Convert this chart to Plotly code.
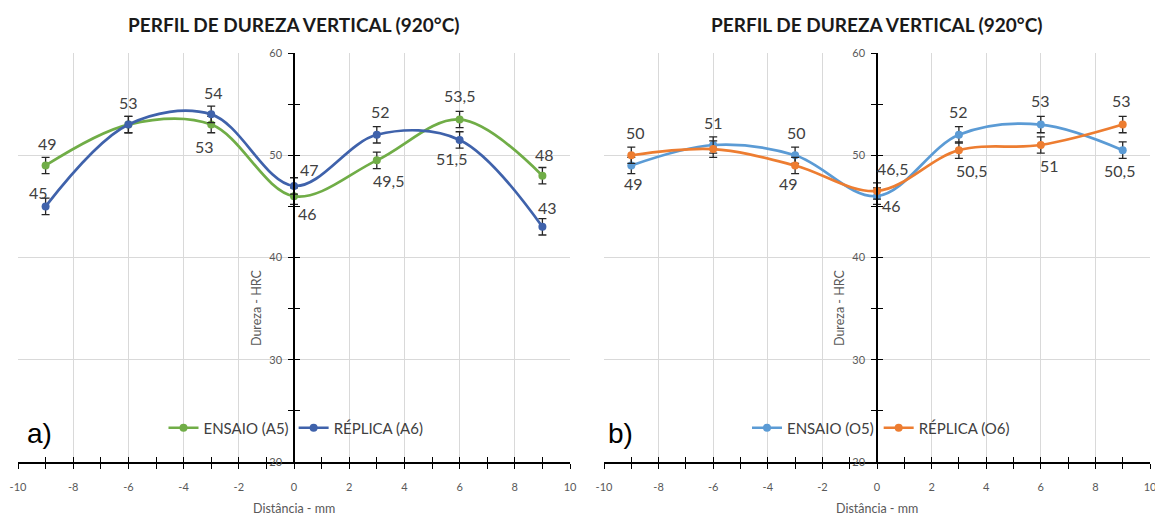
import plotly.graph_objects as go

# ---------------- data ----------------
x_mm = [-9, -6, -3, 0, 3, 6, 9]

# Panel a)
ensaio_a5 = [49, 53, 53, 46, 49.5, 53.5, 48]
replica_a6 = [45, 53, 54, 47, 52, 51.5, 43]
# Panel b)
ensaio_o5 = [49, 51, 50, 46, 52, 53, 50.5]
replica_o6 = [50, 50.6, 49, 46.5, 50.5, 51, 53]

err_hrc = 0.8

x_ticks = list(range(-10, 11, 2))
x_minor = list(range(-10, 11, 1))
y_ticks = [20, 30, 40, 50, 60]
y_minor = [20, 25, 30, 35, 40, 45, 50, 55, 60]

title_txt = "PERFIL DE DUREZA VERTICAL (920°C)"
x_title = "Distância - mm"
y_title = "Dureza - HRC"

# data-label offsets in px (dx right, dy down); None = no label
off_a5 = [(2, -22), (0, -22), (-7, 22), (13, 17), (12, 20), (0, -24), (2, -21)]
off_a6 = [(-7, -14), None, (2, -22), (15, -16), (4, -23), (-8, 19), (5, -19)]
off_o5 = [(2, 18), (0, -23), (1, -23), (14, 9), (0, -23), (0, -24), (-3, 20)]
off_o6 = [(4, -23), None, (-7, 18), (15, -23), (13, 20), (9, 20), (-1, -24)]

# ---------------- layout geometry ----------------
W, H = 1155, 515
xdom_a = [18 / W, 570 / W]
xdom_b = [604 / W, 1150 / W]
ydom = [(H - 462) / H, (H - 53) / H]
pos_a = sum(xdom_a) / 2
pos_b = sum(xdom_b) / 2

GRID = "#D9D9D9"
TICKC = "#595959"
LBLC = "#404040"
FONT = "Lato"

fig = go.Figure()


def fmt(v):
    return f"{v:g}".replace(".", ",")


def add_series(xs, ys, name, color, xa, ya, legend, offs):
    fig.add_trace(go.Scatter(
        x=xs, y=ys, name=name, mode="lines+markers",
        line=dict(color=color, width=2.7, shape="spline", smoothing=1.0),
        marker=dict(color=color, size=8),
        error_y=dict(type="constant", value=err_hrc, color="#262626",
                     thickness=1.3, width=4),
        xaxis=xa, yaxis=ya, legend=legend,
    ))
    for xv, yv, o in zip(xs, ys, offs):
        if o is None:
            continue
        fig.add_annotation(
            x=xv, y=yv, xref=xa, yref=ya, text=fmt(yv), showarrow=False,
            xanchor="center", yanchor="middle",
            xshift=o[0], yshift=-o[1],
            font=dict(family=FONT, size=16, color=LBLC),
        )


add_series(x_mm, ensaio_a5, "ENSAIO (A5)", "#70AD47", "x", "y", "legend", off_a5)
add_series(x_mm, replica_a6, "RÉPLICA (A6)", "#3F62AB", "x", "y", "legend", off_a6)
add_series(x_mm, ensaio_o5, "ENSAIO (O5)", "#5B9BD5", "x2", "y2", "legend2", off_o5)
add_series(x_mm, replica_o6, "RÉPLICA (O6)", "#ED7D31", "x2", "y2", "legend2", off_o6)

# empty traces for the overlay axes that carry the inner half of the cross ticks
for xa, ya in (("x3", "y3"), ("x4", "y4")):
    fig.add_trace(go.Scatter(x=[None], y=[None], xaxis=xa, yaxis=ya,
                             showlegend=False, hoverinfo="skip"))

tickfont = dict(family=FONT, size=11, color=TICKC)
TK = dict(ticklen=5, tickcolor="black", tickwidth=1.3)


def xaxis_main(dom, anchor):
    return dict(
        domain=dom, anchor=anchor, range=[-10, 10], tickmode="array",
        tickvals=x_ticks, ticktext=[str(v) for v in x_ticks],
        showgrid=True, gridcolor=GRID, gridwidth=1, zeroline=False,
        showline=True, linecolor="black", linewidth=1.5,
        ticks="outside", **TK,
        minor=dict(tickmode="array", tickvals=x_minor, ticks="outside",
                   showgrid=False, **TK),
        tickfont=tickfont, ticklabelstandoff=9, ticklabeloverflow="allow",
        fixedrange=True, automargin=False,
    )


def yaxis_main(pos):
    return dict(
        domain=ydom, anchor="free", position=pos, range=[20, 60],
        tickmode="array", tickvals=y_ticks, ticktext=[str(v) for v in y_ticks],
        showgrid=True, gridcolor=GRID, gridwidth=1,
        zeroline=False, showline=True, linecolor="black", linewidth=1.5,
        ticks="outside", **TK,
        minor=dict(tickmode="array", tickvals=y_minor, ticks="outside",
                   showgrid=False, **TK),
        tickfont=tickfont, ticklabelstandoff=4, ticklabeloverflow="allow",
        fixedrange=True, automargin=False,
    )


def xaxis_over(over, anchor):
    return dict(
        overlaying=over, anchor=anchor, range=[-10, 10], tickmode="array",
        tickvals=x_ticks, showgrid=False, zeroline=False, showline=False,
        showticklabels=False, ticks="inside", **TK,
        minor=dict(tickmode="array", tickvals=x_minor, ticks="inside",
                   showgrid=False, **TK),
        fixedrange=True, automargin=False,
    )


def yaxis_over(over, pos):
    return dict(
        overlaying=over, anchor="free", position=pos, range=[20, 60],
        tickmode="array", tickvals=y_ticks, showgrid=False, zeroline=False,
        showline=False, showticklabels=False, ticks="inside", **TK,
        minor=dict(tickmode="array", tickvals=y_minor, ticks="inside",
                   showgrid=False, **TK),
        fixedrange=True, automargin=False,
    )


fig.update_layout(
    width=W, height=H, margin=dict(l=0, r=0, t=0, b=0, autoexpand=False),
    paper_bgcolor="white", plot_bgcolor="white",
    font=dict(family=FONT, color=LBLC),
    xaxis=xaxis_main(xdom_a, "y"),
    yaxis=yaxis_main(pos_a),
    xaxis2=xaxis_main(xdom_b, "y2"),
    yaxis2=yaxis_main(pos_b),
    xaxis3=xaxis_over("x", "y3"),
    yaxis3=yaxis_over("y", pos_a),
    xaxis4=xaxis_over("x2", "y4"),
    yaxis4=yaxis_over("y2", pos_b),
    legend=dict(orientation="h", x=296 / W, y=(H - 428) / H,
                xanchor="center", yanchor="middle",
                bgcolor="rgba(0,0,0,0)", font=dict(family=FONT, size=15, color=LBLC),
                itemwidth=30, tracegroupgap=0),
    legend2=dict(orientation="h", x=881 / W, y=(H - 428) / H,
                 xanchor="center", yanchor="middle",
                 bgcolor="rgba(0,0,0,0)", font=dict(family=FONT, size=15, color=LBLC),
                 itemwidth=30, tracegroupgap=0),
    showlegend=True,
)

# titles, axis titles, panel letters
for pos, letter, lx in ((pos_a, "a)", 39), (pos_b, "b)", 620)):
    common = dict(xref="paper", yref="paper", showarrow=False,
                  xanchor="center", yanchor="middle")
    fig.add_annotation(x=pos, y=(H - 25) / H, text=f"<b>{title_txt}</b>",
                       font=dict(family=FONT, size=19, color="#1A1A1A"), **common)
    fig.add_annotation(x=pos, y=(H - 508) / H, text=x_title,
                       font=dict(family=FONT, size=12.5, color=TICKC), **common)
    fig.add_annotation(x=pos - 38 / W, y=(H - 308) / H, text=y_title, textangle=-90,
                       font=dict(family=FONT, size=12.5, color=TICKC), **common)
    fig.add_annotation(x=lx / W, y=(H - 433) / H, text=letter,
                       font=dict(family="Liberation Sans", size=28, color="black"),
                       **common)

fig.write_html("out.html")
